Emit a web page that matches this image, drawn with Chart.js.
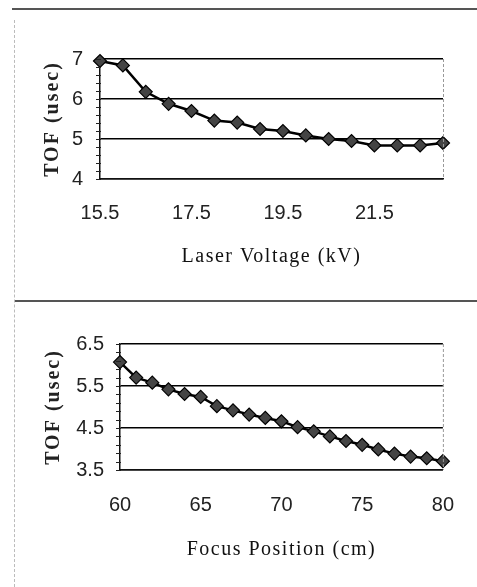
<!DOCTYPE html>
<html>
<head>
<meta charset="utf-8">
<script src="https://cdn.jsdelivr.net/npm/chart.js@4"></script>
<style>
  html, body { margin: 0; padding: 0; background: #fff; }
  body { width: 477px; height: 587px; position: relative; overflow: hidden; }
  .rule { position: absolute; left: 12px; right: 0; height: 0; border-top: 2px solid #555; }
  .vrule { position: absolute; left: 14px; top: 20px; bottom: 0; width: 0; border-left: 1px dashed #bbb; }
  canvas { position: absolute; left: 0; }
</style>
</head>
<body>
<div class="rule" style="top:8px"></div>
<div class="rule" style="top:300px; left:14px"></div>
<div class="vrule"></div>
<canvas id="c1" width="477" height="255" style="top:30px"></canvas>
<canvas id="c2" width="477" height="272" style="top:315px"></canvas>
<script>
// ---- data ----
const laserVoltage = [15.5, 16, 16.5, 17, 17.5, 18, 18.5, 19, 19.5, 20, 20.5, 21, 21.5, 22, 22.5, 23];
const tofVoltage   = [6.95, 6.84, 6.18, 5.88, 5.70, 5.46, 5.41, 5.25, 5.20, 5.09, 5.00, 4.95, 4.84, 4.84, 4.84, 4.90];
const voltageTicks = [15.5, 17.5, 19.5, 21.5];
const tofTicksTop  = [4, 5, 6, 7];

const focusPosition = [60, 61, 62, 63, 64, 65, 66, 67, 68, 69, 70, 71, 72, 73, 74, 75, 76, 77, 78, 79, 80];
const tofFocus      = [6.07, 5.70, 5.58, 5.42, 5.31, 5.24, 5.02, 4.92, 4.82, 4.74, 4.66, 4.52, 4.42, 4.30, 4.19, 4.10, 3.99, 3.89, 3.82, 3.78, 3.71];
const focusTicks    = [60, 65, 70, 75, 80];
const tofTicksBot   = [3.5, 4.5, 5.5, 6.5];

// ---- styling / plugins ----
const decor = {
  id: 'decor',
  beforeDraw(chart) {
    Object.values(chart.scales).forEach(s => {
      if (s._lsPatched) return;
      const orig = s.drawTitle.bind(s);
      s.drawTitle = function () {
        const ctx = this.ctx;
        const prev = ctx.letterSpacing;
        ctx.letterSpacing = this.options.titleSpacing || '0px';
        orig();
        ctx.letterSpacing = prev || '0px';
      };
      s._lsPatched = true;
    });
  },
  afterDraw(chart, args, opts) {
    const {ctx, chartArea: a, scales: {y}} = chart;
    ctx.save();
    ctx.strokeStyle = '#999';
    ctx.lineWidth = 1;
    ctx.setLineDash([3, 2]);
    ctx.beginPath();
    ctx.moveTo(a.right + 0.5, a.top);
    ctx.lineTo(a.right + 0.5, a.bottom);
    ctx.stroke();
    ctx.setLineDash([]);
    ctx.strokeStyle = '#222';
    ctx.lineWidth = 1;
    const step = opts.minor;
    for (let v = y.min; v <= y.max + 1e-9; v += step) {
      const py = Math.round(y.getPixelForValue(v)) + 0.5;
      ctx.beginPath();
      ctx.moveTo(a.left - 4, py);
      ctx.lineTo(a.left + 1, py);
      ctx.stroke();
    }
    ctx.restore();
  }
};

function makeChart(id, xs, ys, xTicks, yTicks, cfg) {
  const tickFont = { family: 'Liberation Sans', size: 20 };
  const titleFont = { family: 'Liberation Serif', size: 20 };
  return new Chart(document.getElementById(id), {
    type: 'line',
    data: {
      datasets: [{
        data: xs.map((x, i) => ({ x: x, y: ys[i] })),
        borderColor: '#000',
        borderWidth: 2.5,
        pointStyle: 'rectRot',
        pointRadius: 6.5,
        pointBackgroundColor: '#444',
        pointBorderColor: '#000',
        pointBorderWidth: 1.2,
        tension: 0,
        clip: false
      }]
    },
    options: {
      responsive: false,
      animation: false,
      devicePixelRatio: 1,
      layout: { padding: { top: cfg.padTop, right: cfg.padRight, left: 0, bottom: 0 } },
      plugins: { legend: { display: false }, tooltip: { enabled: false }, decor: { minor: 0.2 } },
      scales: {
        x: {
          type: 'linear',
          min: cfg.xMin, max: cfg.xMax,
          afterBuildTicks: s => { s.ticks = xTicks.map(v => ({ value: v })); },
          afterFit: s => { s.height = cfg.xHeight; },
          grid: { display: false, drawTicks: false },
          border: { display: true, color: '#111', width: 1.5 },
          ticks: { font: tickFont, color: '#222', padding: cfg.xTickPad, maxRotation: 0, autoSkip: false,
                   callback: v => String(v) },
          title: { display: true, text: cfg.xTitle, font: titleFont, color: '#111',
                   padding: { top: 0, bottom: cfg.xTitlePad } },
          titleSpacing: '1.5px'
        },
        y: {
          min: cfg.yMin, max: cfg.yMax,
          afterBuildTicks: s => { s.ticks = yTicks.map(v => ({ value: v })); },
          afterFit: s => { s.width = cfg.yWidth; },
          grid: { color: '#000', lineWidth: 1.5, drawTicks: false },
          border: { display: true, color: '#111', width: 1.5 },
          ticks: { font: tickFont, color: '#222', padding: cfg.yTickPad, autoSkip: false,
                   callback: v => cfg.yFmt(v) },
          title: { display: true, text: 'TOF (usec)', font: { family: 'Liberation Serif', size: 20, weight: 'bold' }, color: '#222',
                   padding: { top: cfg.yTitlePad, bottom: 0 } },
          titleSpacing: '2px'
        }
      }
    },
    plugins: [decor]
  });
}

makeChart('c1', laserVoltage, tofVoltage, voltageTicks, tofTicksTop, {
  padTop: 22, padRight: 34, xHeight: 106, yWidth: 100,
  xMin: 15.5, xMax: 23, yMin: 4, yMax: 7,
  xTickPad: 22, xTitlePad: 16, yTickPad: 17, yTitlePad: 41,
  xTitle: 'Laser Voltage (kV)', yFmt: v => String(v)
});

makeChart('c2', focusPosition, tofFocus, focusTicks, tofTicksBot, {
  padTop: 29, padRight: 25, xHeight: 117, yWidth: 120,
  xMin: 60, xMax: 80, yMin: 3.5, yMax: 6.5,
  xTickPad: 23, xTitlePad: 25, yTickPad: 16, yTitlePad: 42,
  xTitle: 'Focus Position (cm)', yFmt: v => v.toFixed(1)
});
</script>
</body>
</html>
